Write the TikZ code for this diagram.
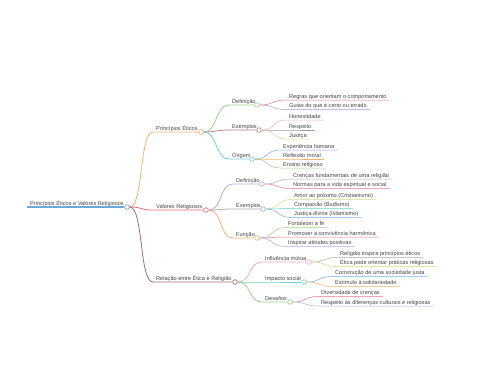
\documentclass[tikz,border=0pt]{standalone}
\usepackage{fontspec}
\setmainfont{Liberation Sans}
\usepackage{xcolor}

\definecolor{txt}{HTML}{444444}
\definecolor{cBlue}{HTML}{6BA8DC}
\definecolor{cOrange}{HTML}{F6B070}
\definecolor{cRed}{HTML}{E46C7A}
\definecolor{cMaroon}{HTML}{A56A78}
\definecolor{cGreen}{HTML}{9AD488}
\definecolor{cMauve}{HTML}{AE8090}
\definecolor{cCyan}{HTML}{6CCFD6}
\definecolor{cPink}{HTML}{EA7488}
\definecolor{cPurple}{HTML}{A698D6}
\definecolor{cRose}{HTML}{F2AAC6}
\definecolor{cTaupe}{HTML}{AC96A0}
\definecolor{cLime}{HTML}{CEDC80}
\definecolor{cSky}{HTML}{7AAAE4}
\definecolor{cLav}{HTML}{B2AADC}
\definecolor{cGray}{HTML}{A8A8B4}

\begin{document}
\begin{tikzpicture}[
  x=1pt, y=-1pt,
  topic/.style={anchor=south west, inner xsep=3pt, inner ysep=1.6pt, text depth=0pt,
    font=\fontsize{5.6}{6}\selectfont, text=txt},
  dot/.style={circle, draw=#1, fill=white, inner sep=0pt, minimum size=4.6pt, line width=0.7pt},
  branch/.style={line width=0.8pt},
  twig/.style={line width=0.5pt},
  curve/.style={to path={.. controls +(14,0) and +(-14,0) .. (\tikztotarget)}}
]
  \useasboundingbox (0,0) rectangle (480,384);

  % root
  \node[topic] (root) at (27,207) {Princípios Éticos e Valores Religiosos};
  \node[dot=cBlue] (rootc) at (127,207) {};
  \draw[line width=1.1pt, cBlue] (root.south west) -- (rootc);

  % first level
  \node[topic] (pe) at (153,132) {Princípios Éticos};
  \node[dot=cOrange] (pec) at (201,132) {};
  \node[topic] (vr) at (153,210) {Valores Religiosos};
  \node[dot=cRed] (vrc) at (206,210) {};
  \node[topic] (rel) at (153,282) {Relação entre Ética e Religião};
  \node[dot=cMaroon] (relc) at (235,282) {};

  \draw[branch, cOrange] (rootc.east) to[curve] (pe.south west) -- (pec);
  \draw[branch, cRed] (rootc.east) to[curve] (vr.south west) -- (vrc);
  \draw[branch, cMaroon] (rootc.east) to[curve] (rel.south west) -- (relc);

  % Princípios Éticos
  \node[topic] (pd) at (229,105) {Definição};
  \node[dot=cGreen] (pdc) at (257,105) {};
  \node[topic] (px) at (229,130) {Exemplos};
  \node[dot=cMauve] (pxc) at (259,130) {};
  \node[topic] (po) at (229,159) {Origem};
  \node[dot=cCyan] (poc) at (252,159) {};

  \draw[branch, cGreen] (pec.east) to[curve] (pd.south west) -- (pdc);
  \draw[branch, cMauve] (pec.east) to[curve] (px.south west) -- (pxc);
  \draw[branch, cCyan] (pec.east) to[curve] (po.south west) -- (poc);

  \node[topic] (pd1) at (286,100) {Regras que orientam o comportamento};
  \node[topic] (pd2) at (286,109.5) {Guias do que é certo ou errado};
  \node[topic] (px1) at (286,120) {Honestidade};
  \node[topic] (px2) at (286,130) {Respeito};
  \node[topic] (px3) at (286,139) {Justiça};
  \node[topic] (po1) at (280,150) {Experiência humana};
  \node[topic] (po2) at (280,159) {Reflexão moral};
  \node[topic] (po3) at (280,168) {Ensino religioso};

  \draw[twig, cPink] (pdc.east) to[curve] (pd1.south west) -- (pd1.south east);
  \draw[twig, cPurple] (pdc.east) to[curve] (pd2.south west) -- (pd2.south east);
  \draw[twig, cRose] (pxc.east) to[curve] (px1.south west) -- (px1.south east);
  \draw[twig, cTaupe] (pxc.east) to[curve] (px2.south west) -- (px2.south east);
  \draw[twig, cLime] (pxc.east) to[curve] (px3.south west) -- (px3.south east);
  \draw[twig, cSky] (poc.east) to[curve] (po1.south west) -- (po1.south east);
  \draw[twig, cOrange] (poc.east) to[curve] (po2.south west) -- (po2.south east);
  \draw[twig, cGreen] (poc.east) to[curve] (po3.south west) -- (po3.south east);

  % Valores Religiosos
  \node[topic] (vd) at (233,184) {Definição};
  \node[dot=cLav] (vdc) at (262,184) {};
  \node[topic] (vx) at (233,209) {Exemplos};
  \node[dot=cGray] (vxc) at (263,209) {};
  \node[topic] (vf) at (233,238) {Função};
  \node[dot=cOrange] (vfc) at (257,238) {};

  \draw[branch, cLav] (vrc.east) to[curve] (vd.south west) -- (vdc);
  \draw[branch, cGray] (vrc.east) to[curve] (vx.south west) -- (vxc);
  \draw[branch, cOrange] (vrc.east) to[curve] (vf.south west) -- (vfc);

  \node[topic] (vd1) at (290,179) {Crenças fundamentais de uma religião};
  \node[topic] (vd2) at (290,188.5) {Normas para a vida espiritual e social};
  \node[topic] (vx1) at (291,199.5) {Amor ao próximo (Cristianismo)};
  \node[topic] (vx2) at (291,208.5) {Compaixão (Budismo)};
  \node[topic] (vx3) at (291,217.5) {Justiça divina (Islamismo)};
  \node[topic] (vf1) at (285,227.5) {Fortalecer a fé};
  \node[topic] (vf2) at (285,237) {Promover a convivência harmônica};
  \node[topic] (vf3) at (285,246.5) {Inspirar atitudes positivas};

  \draw[twig, cGray] (vdc.east) to[curve] (vd1.south west) -- (vd1.south east);
  \draw[twig, cPink] (vdc.east) to[curve] (vd2.south west) -- (vd2.south east);
  \draw[twig, cLime] (vxc.east) to[curve] (vx1.south west) -- (vx1.south east);
  \draw[twig, cCyan] (vxc.east) to[curve] (vx2.south west) -- (vx2.south east);
  \draw[twig, cSky] (vxc.east) to[curve] (vx3.south west) -- (vx3.south east);
  \draw[twig, cGreen] (vfc.east) to[curve] (vf1.south west) -- (vf1.south east);
  \draw[twig, cPink] (vfc.east) to[curve] (vf2.south west) -- (vf2.south east);
  \draw[twig, cLav] (vfc.east) to[curve] (vf3.south west) -- (vf3.south east);

  % Relação entre Ética e Religião
  \node[topic] (ri) at (262,262) {Influência mútua};
  \node[dot=cRose] (ric) at (309,262) {};
  \node[topic] (rs) at (262,282) {Impacto social};
  \node[dot=cCyan] (rsc) at (304,282) {};
  \node[topic] (rd) at (262,302) {Desafios};
  \node[dot=cGreen] (rdc) at (290,302) {};

  \draw[branch, cRose] (relc.east) to[curve] (ri.south west) -- (ric);
  \draw[branch, cCyan] (relc.east) to[curve] (rs.south west) -- (rsc);
  \draw[branch, cGreen] (relc.east) to[curve] (rd.south west) -- (rdc);

  \node[topic] (ri1) at (337,257.5) {Religião inspira princípios éticos};
  \node[topic] (ri2) at (337,266.5) {Ética pode orientar práticas religiosas};
  \node[topic] (rs1) at (332,276.5) {Construção de uma sociedade justa};
  \node[topic] (rs2) at (332,286.5) {Estímulo à solidariedade};
  \node[topic] (rd1) at (318,296.5) {Diversidade de crenças};
  \node[topic] (rd2) at (318,306) {Respeito às diferenças culturais e religiosas};

  \draw[twig, cGray] (ric.east) to[curve] (ri1.south west) -- (ri1.south east);
  \draw[twig, cLime] (ric.east) to[curve] (ri2.south west) -- (ri2.south east);
  \draw[twig, cSky] (rsc.east) to[curve] (rs1.south west) -- (rs1.south east);
  \draw[twig, cOrange] (rsc.east) to[curve] (rs2.south west) -- (rs2.south east);
  \draw[twig, cPink] (rdc.east) to[curve] (rd1.south west) -- (rd1.south east);
  \draw[twig, cLav] (rdc.east) to[curve] (rd2.south west) -- (rd2.south east);
\end{tikzpicture}
\end{document}
